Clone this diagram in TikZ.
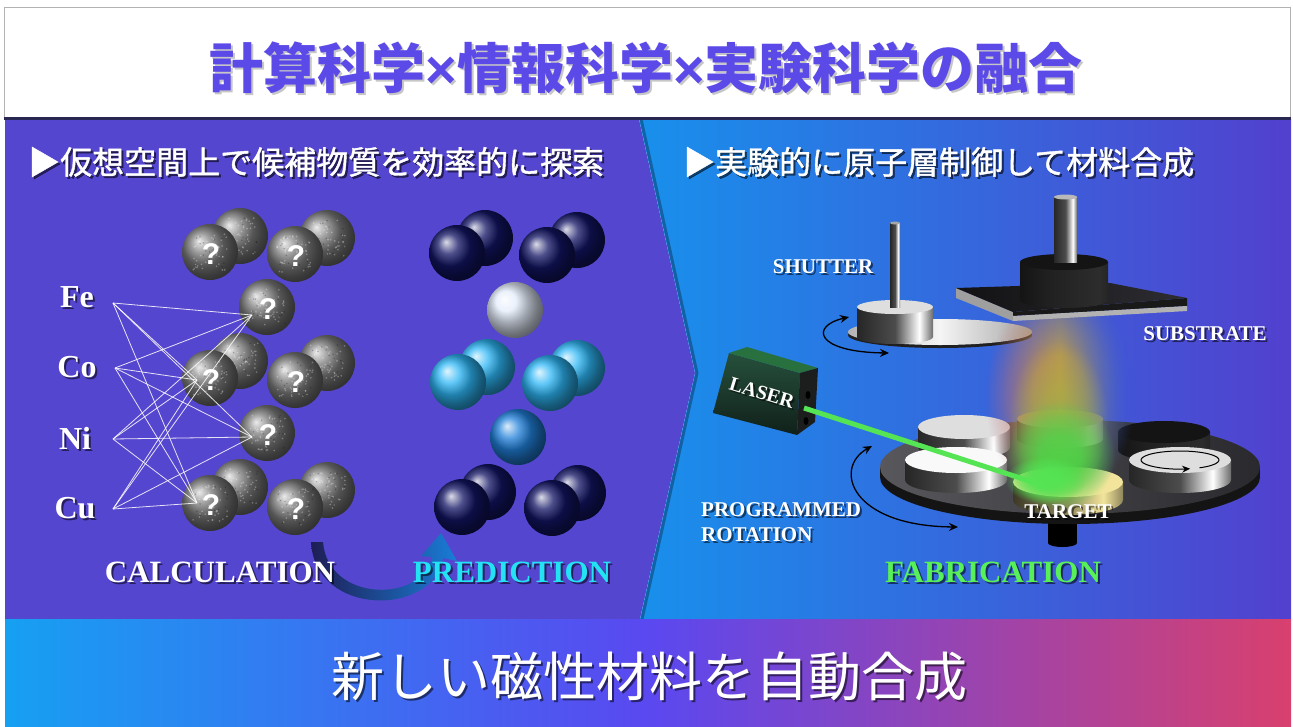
\documentclass[tikz,border=0pt]{standalone}
\usepackage{fontspec}
\setmainfont{Liberation Serif}
\newfontfamily\jpfont{Noto Sans CJK JP}
\newfontfamily\jphead{Noto Sans CJK JP}[FakeBold=1.2]
\newfontfamily\qfont{Liberation Sans}
\usetikzlibrary{arrows.meta,fadings,shadings}

\definecolor{panelL}{RGB}{85,70,207}
\definecolor{panelRa}{RGB}{24,144,236}
\definecolor{panelRb}{RGB}{82,64,206}
\definecolor{sepC}{RGB}{40,40,80}
\definecolor{titleC}{RGB}{91,74,232}
\definecolor{barA}{RGB}{22,160,242}
\definecolor{barB}{RGB}{90,72,240}
\definecolor{barC}{RGB}{216,64,110}
\definecolor{navyB}{RGB}{18,20,100}
\definecolor{skyB}{RGB}{45,182,245}
\definecolor{midB}{RGB}{32,128,218}
\definecolor{paleB}{RGB}{228,236,250}
\definecolor{qgray}{RGB}{122,122,122}
\definecolor{predC}{RGB}{34,226,244}
\definecolor{fabC}{RGB}{88,240,88}
\definecolor{beamC}{RGB}{84,228,84}
\definecolor{silver}{RGB}{222,222,222}
\definecolor{goldC}{RGB}{242,228,155}
\definecolor{goldgray}{RGB}{160,158,128}
\definecolor{arrowA}{RGB}{30,30,85}
\definecolor{arrowB}{RGB}{25,125,215}
\definecolor{discA}{RGB}{88,88,92}
\definecolor{discB}{RGB}{42,42,46}
\definecolor{plumeR}{RGB}{185,95,125}
\definecolor{plumeY}{RGB}{205,165,55}
\definecolor{plumeG}{RGB}{95,200,85}
\definecolor{plumeBl}{RGB}{40,85,225}
\definecolor{plumeE}{RGB}{60,225,60}
\definecolor{plateA}{RGB}{18,18,20}
\definecolor{plateB}{RGB}{45,45,50}
\definecolor{laserA}{RGB}{38,80,60}
\definecolor{laserB}{RGB}{16,32,26}
\definecolor{laserTop}{RGB}{40,112,62}
\definecolor{laserSide}{RGB}{28,30,30}

% polished metal seen side-on
\pgfdeclarehorizontalshading{chrome}{100bp}{color(0bp)=(gray!55!black); color(25bp)=(black!85); color(50bp)=(gray!60!black); color(66bp)=(white); color(78bp)=(gray!45!black); color(100bp)=(black!90)}
\pgfdeclarehorizontalshading{goldchrome}{100bp}{color(0bp)=(goldC!50!black); color(25bp)=(goldC!25!black); color(50bp)=(goldC!60!black); color(66bp)=(goldC); color(78bp)=(goldC!45!black); color(100bp)=(black!90)}
\pgfdeclarehorizontalshading{darkchrome}{100bp}{color(0bp)=(black); color(40bp)=(gray!25!black); color(70bp)=(gray!35!black); color(100bp)=(black)}

% soft-edged blob: opaque core, smooth fall-off to the rim
\pgfdeclareradialshading{softcore}{\pgfpointorigin}{color(0bp)=(pgftransparent!0); color(9bp)=(pgftransparent!5); color(17bp)=(pgftransparent!45); color(25bp)=(pgftransparent!100); color(50bp)=(pgftransparent!100)}
\pgfdeclarefading{softblob}{\pgfuseshading{softcore}}

% cylinder seen from above: centre x, centre y of the top, x radius, y radius,
% height, colour of the top face, shading of the side
\newcommand\metalcyl[7]{%
  \shade[shading=#7]
    (#1-#3,#2) -- (#1-#3,#2+#5) arc[start angle=180, end angle=0, x radius=#3, y radius=#4]
    -- (#1+#3,#2) -- cycle;
  \fill[#6] (#1,#2) ellipse [x radius=#3, y radius=#4];
}

% text with a dark drop shadow
\newcommand\shadowed[4]{%
  \node[#3, text=black, opacity=.55] at ([shift={(2,2)}]#2) {#4};
  \node[#3] (#1) at (#2) {#4};
}

% grey "unknown" atom with a speckled surface
\newcommand\qsphere[4]{%
  \node[qball] (#1) at (#2,#3) {};
  \foreach \k in {1,...,45} {\fill[white, opacity=.3] ({#2+18*rand},{#3+18*rand}) circle (0.9);}
  \foreach \k in {1,...,15} {\fill[black, opacity=.25] ({#2+18*rand},{#3+18*rand}) circle (0.8);}
  \if\relax\detokenize{#4}\relax\else\node[qmark] (#1m) at (#2+1,#3+2) {#4};\fi
}

\tikzset{
  qball/.style={circle, minimum size=56pt, inner sep=0pt, shading=ball, ball color=qgray},
  qmark/.style={text=white, inner sep=0pt, font=\qfont\bfseries\fontsize{30}{30}\selectfont},
  pball/.style={circle, minimum size=56pt, inner sep=0pt, shading=ball},
  elem/.style={text=white, inner sep=0pt, font=\fontsize{32}{36}\selectfont\bfseries},
  lbl/.style={text=white, inner sep=0pt, font=\fontsize{21}{24}\selectfont\bfseries},
  big/.style={inner sep=0pt, font=\fontsize{31}{36}\selectfont\bfseries},
  head/.style={text=white, inner sep=0pt, anchor=west, font=\jphead\fontsize{32}{38}\selectfont},
  link/.style={white, opacity=.85, line width=.8pt},
  rotarrow/.style={black, line width=1.3pt, {Stealth[length=9pt,width=8pt]}-{Stealth[length=9pt,width=8pt]}},
}

\begin{document}
\begin{tikzpicture}[x=1pt,y=-1pt]
\pgfmathsetseed{7}
\useasboundingbox (0,0) rectangle (1293,726);
\fill[white] (0,0) rectangle (1293,726);

% title box
\draw[gray!60, line width=1pt] (4,7) rectangle (1290,118);
\node[text=gray!45, inner sep=0pt, font=\jpfont\bfseries\fontsize{54}{60}\selectfont] at (648,70) {計算科学{\qfont ×}情報科学{\qfont ×}実験科学の融合};
\node[text=titleC, inner sep=0pt, font=\jpfont\bfseries\fontsize{54}{60}\selectfont] (title) at (646,68) {計算科学{\qfont ×}情報科学{\qfont ×}実験科学の融合};

% panels
\fill[panelL] (5,119) -- (639,119) -- (695,373) -- (640,619) -- (5,619) -- cycle;
\shade[left color=panelRa, right color=panelRb] (639,119) -- (1291,119) -- (1291,619) -- (640,619) -- (695,373) -- cycle;
\draw[black, opacity=.3, line width=3pt] (641,119) -- (697,373) -- (642,619);
\fill[sepC] (4,117) rectangle (1291,120);

% bottom banner
\shade[left color=barA, right color=barC, middle color=barB] (5,619) rectangle (1291,726);
\shadowed{result}{649,676}{text=white, inner sep=0pt, font=\jpfont\fontsize{53}{60}\selectfont}{新しい磁性材料を自動合成}

% section headers
\shadowed{headL}{28,162}{head}{▶仮想空間上で候補物質を効率的に探索}
\shadowed{headR}{683,162}{head}{▶実験的に原子層制御して材料合成}

% ---------- calculation: candidate atoms ----------
\qsphere{p1b}{240}{236}{}
\qsphere{p1f}{210}{252}{?}
\qsphere{p2b}{327}{238}{}
\qsphere{p2f}{295}{254}{?}
\qsphere{s1}{267}{307}{?}
\qsphere{p3b}{240}{361}{}
\qsphere{p3f}{210}{378}{?}
\qsphere{p4b}{327}{363}{}
\qsphere{p4f}{295}{380}{?}
\qsphere{s2}{267}{433}{?}
\qsphere{p5b}{240}{487}{}
\qsphere{p5f}{210}{503}{?}
\qsphere{p6b}{327}{490}{}
\qsphere{p6f}{295}{507}{?}

% elements and their combinations
\shadowed{Fe}{77,297}{elem}{Fe}
\shadowed{Co}{77,367}{elem}{Co}
\shadowed{Ni}{75,438}{elem}{Ni}
\shadowed{Cu}{75,508}{elem}{Cu}
\coordinate (feR) at (113,303);
\coordinate (coR) at (115,368);
\coordinate (niR) at (113,439);
\coordinate (cuR) at (113,509);
\coordinate (ta) at (252,315);
\coordinate (tb) at (197,380);
\coordinate (tc) at (252,437);
\coordinate (td) at (197,503);
\foreach \s in {feR,coR,niR,cuR}
  \foreach \t in {ta,tb,tc,td}
    \draw[link] (\s) -- (\t);

% ---------- prediction: resolved structure ----------
\node[pball, ball color=navyB] (d1b) at (485,238) {};
\node[pball, ball color=navyB] (d1f) at (457,253) {};
\node[pball, ball color=navyB] (d2b) at (577,240) {};
\node[pball, ball color=navyB] (d2f) at (547,255) {};
\node[pball, ball color=paleB] (w1) at (515,310) {};
\node[pball, ball color=skyB] (l1b) at (487,367) {};
\node[pball, ball color=skyB] (l1f) at (458,382) {};
\node[pball, ball color=skyB] (l2b) at (577,368) {};
\node[pball, ball color=skyB] (l2f) at (550,383) {};
\node[pball, ball color=midB] (m1) at (518,437) {};
\node[pball, ball color=navyB] (d3b) at (488,492) {};
\node[pball, ball color=navyB] (d3f) at (462,507) {};
\node[pball, ball color=navyB] (d4b) at (578,493) {};
\node[pball, ball color=navyB] (d4f) at (552,508) {};

% curved arrow from calculation to prediction
\shade[left color=arrowA, right color=arrowB]
  (311,542) .. controls (315,617) and (433,617) .. (443,558)
  -- (457,561) -- (441,533) -- (421,556) -- (432,557)
  .. controls (423,603) and (328,603) .. (323,542) -- cycle;

\shadowed{calc}{220,572}{big, text=white}{CALCULATION}
\shadowed{pred}{512,572}{big, text=predC}{PREDICTION}

% ---------- fabrication ----------
% shutter
\fill[gray!25!black] (940,335) ellipse [x radius=92, y radius=13];
\shade[left color=gray!60, right color=gray!70, middle color=white!92!gray] (940,332) ellipse [x radius=92, y radius=13];
\metalcyl{895}{307}{38}{7}{30}{silver}{chrome}
\shade[shading=chrome] (890,223) rectangle (900,307);
\fill[gray!70] (895,223) ellipse [x radius=5, y radius=1.5];
\draw[rotarrow] (849,317) .. controls (810,326) and (815,352) .. (889,353);
\shadowed{shutter}{823,267}{lbl}{SHUTTER}

% target carousel
\fill[black] (1048,515) rectangle (1077,543);
\fill[black] (1062.5,543) ellipse [x radius=14.5, y radius=4];
\fill[black!92] (1070,477) ellipse [x radius=190, y radius=47];
\fill[black!92] (880,467) rectangle (1260,477);
\shade[left color=discA, right color=discB] (1070,467) ellipse [x radius=190, y radius=47];
\metalcyl{1060}{419}{43}{9}{20}{goldgray}{chrome}
\metalcyl{964}{427}{46}{12}{20}{silver}{chrome}
\metalcyl{1164}{432}{46}{11}{18}{black!92}{darkchrome}
\metalcyl{956}{460}{51}{13}{20}{white!95!gray}{chrome}
\metalcyl{1180}{460}{51}{13}{20}{silver}{chrome}
\draw[black, line width=1pt, -{Stealth[length=8pt,width=7pt]}] (1180,460) ++(60:39 and 9) arc[start angle=60, end angle=-285, x radius=39, y radius=9];
\metalcyl{1068}{482}{55}{15}{18}{goldC}{goldchrome}

% plume rising from the target
\shade[left color=plumeR, right color=plumeBl, middle color=plumeY, opacity=.85, path fading=softblob] (1060,395) ellipse [x radius=75, y radius=110];
\shade[top color=plumeY, bottom color=plumeG, opacity=.6, path fading=softblob] (1058,420) ellipse [x radius=50, y radius=80];
\shade[top color=plumeG, bottom color=plumeE, opacity=.9, path fading=softblob] (1060,455) ellipse [x radius=55, y radius=55];

% substrate holder
\fill[gray!75] (956,288) -- (1013,312) -- (1013,321) -- (956,298) -- cycle;
\fill[black!90] (1013,312) -- (1187,298) -- (1187,306) -- (1013,316) -- cycle;
\fill[gray!60] (1013,316) -- (1187,306) -- (1187,311) -- (1013,321) -- cycle;
\shade[left color=plateA, right color=plateB] (956,288) -- (1110,283) -- (1187,298) -- (1013,312) -- cycle;
\metalcyl{1064}{262}{44}{8}{38}{black!92}{darkchrome}
\shade[shading=chrome] (1054,197) rectangle (1077,262);
\fill[gray!55] (1065.5,197) ellipse [x radius=11.5, y radius=2.5];
\shadowed{substrate}{1205,334}{lbl}{SUBSTRATE}

% laser
\shade[top color=laserA, bottom color=laserB] (729,353) -- (800,373) -- (797,435) -- (713,413) -- cycle;
\fill[laserTop] (729,353) -- (747,347) -- (818,368) -- (800,373) -- cycle;
\fill[laserSide] (800,373) -- (818,368) -- (815,422) -- (797,435) -- cycle;
\fill[black] (808,395) ellipse [x radius=2.5, y radius=4];
\fill[black] (806,421) ellipse [x radius=2.5, y radius=4];
\node[text=black, opacity=.5, inner sep=0pt, rotate=-17, font=\fontsize{20}{24}\selectfont\bfseries] at (764,395) {LASER};
\node[text=white, inner sep=0pt, rotate=-17, font=\fontsize{20}{24}\selectfont\bfseries] (laser) at (762,393) {LASER};
\coordinate (beamS) at (804,408);
\coordinate (beamE) at (1045,486);
\draw[beamC, line width=5pt] (beamS) -- (beamE);
\fill[beamC, opacity=.95, path fading=softblob] (1045,480) ellipse [x radius=40, y radius=24];

\draw[rotarrow] (872,446) .. controls (833,468) and (850,526) .. (958,527);
\shadowed{prog}{701,510}{lbl, anchor=west}{PROGRAMMED}
\shadowed{rot}{701,535}{lbl, anchor=west}{ROTATION}
\shadowed{target}{1068,512}{lbl}{TARGET}
\shadowed{fab}{993,572}{big, text=fabC}{FABRICATION}
\end{tikzpicture}
\end{document}
